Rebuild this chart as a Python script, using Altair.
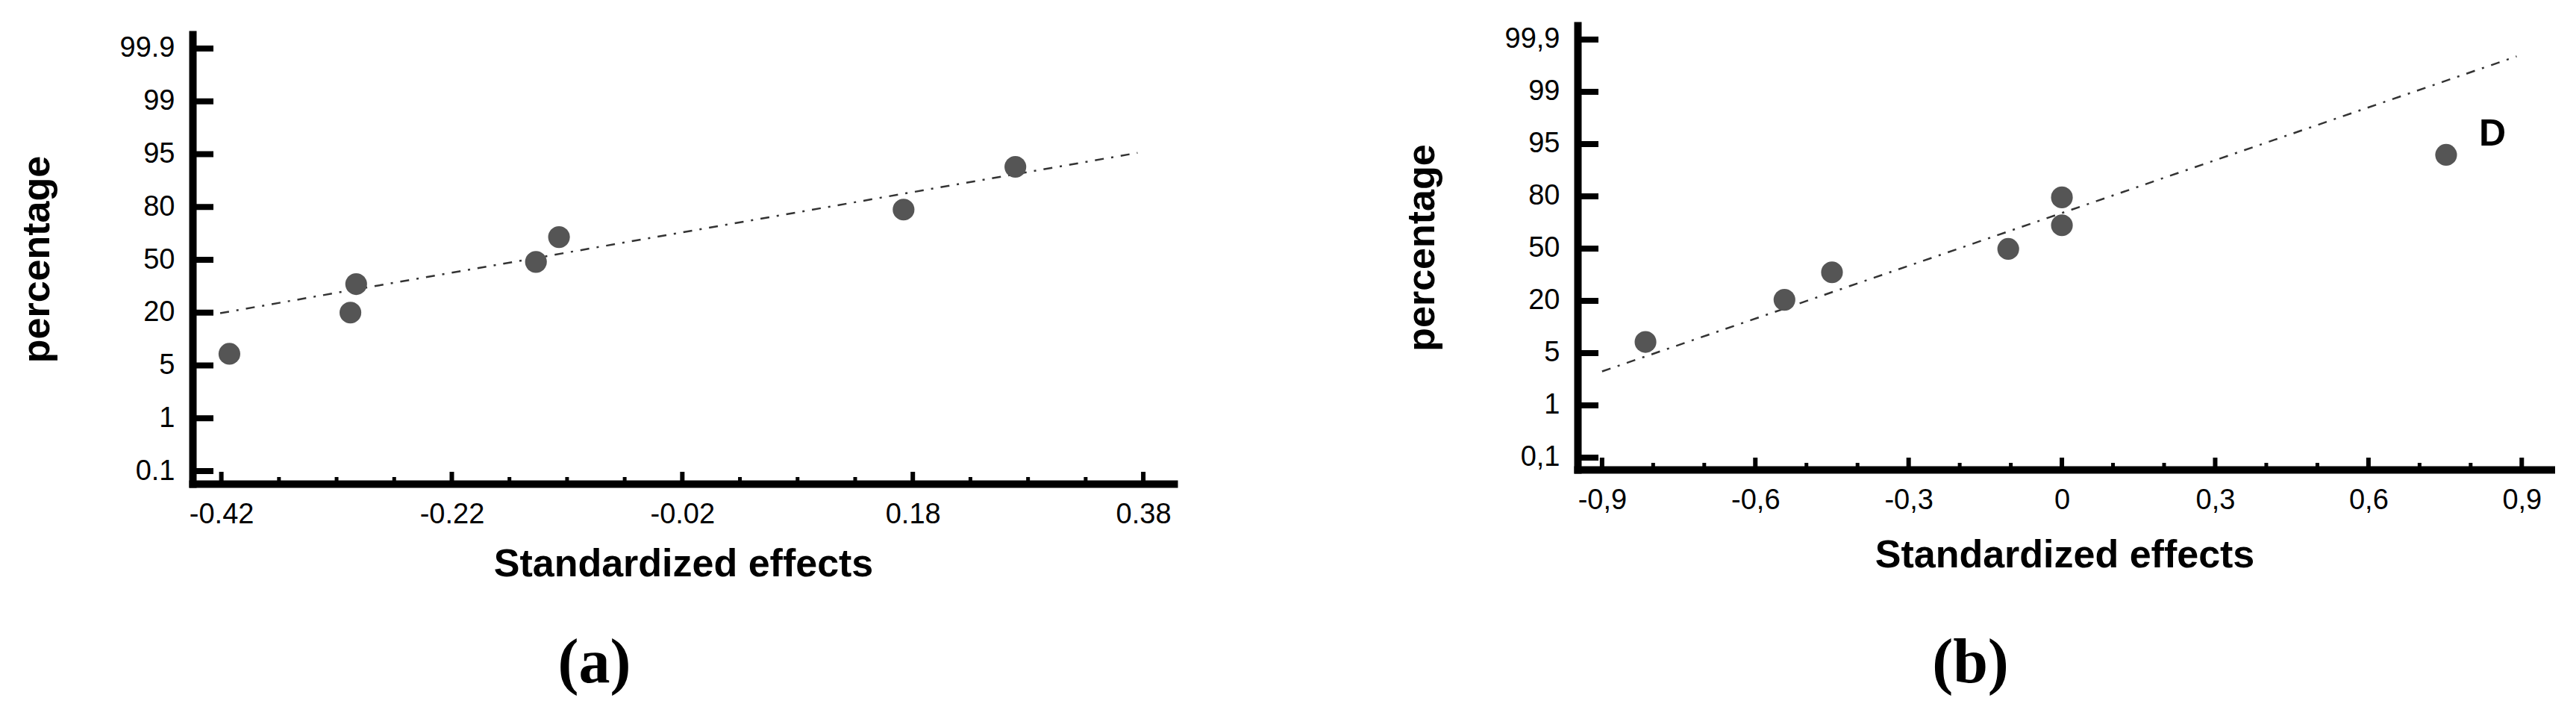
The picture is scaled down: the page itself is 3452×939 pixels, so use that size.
import altair as alt
import pandas as pd

# ---------------- data ----------------
pct_ticks = [0.1, 1, 5, 20, 50, 80, 95, 99, 99.9]

# panel (a)
a_effect = [-0.413, -0.308, -0.303, -0.147, -0.127, 0.172, 0.269]
a_pct = [8.3, 20.0, 36.2, 48.8, 62.9, 78.5, 91.4]
a_label = ["", "", "", "", "", "", ""]
a_line_effect = [-0.421, 0.375]
a_line_pct = [19.85, 95.1]
a_major = [-0.42, -0.22, -0.02, 0.18, 0.38]
a_minor = [-0.37, -0.32, -0.27, -0.17, -0.12, -0.07, 0.03, 0.08, 0.13, 0.23, 0.28, 0.33]

# panel (b)
b_effect = [-0.815, -0.543, -0.45, -0.105, 0.0, 0.0, 0.752]
b_pct = [8.2, 20.6, 36.4, 49.8, 63.4, 79.4, 91.9]
b_label = ["", "", "", "", "", "", "D"]
b_line_effect = [-0.9, 0.89]
b_line_pct = [3.6, 99.61]
b_major = [-0.9, -0.6, -0.3, 0.0, 0.3, 0.6, 0.9]
b_minor = [-0.8, -0.7, -0.5, -0.4, -0.2, -0.1, 0.1, 0.2, 0.4, 0.5, 0.7, 0.8]

FONT = "Liberation Sans"


def panel(eff, pct, lab, leff, lpct, major, minor, xdom, W, H, lmin, lmax,
          comma, letter, letter_dx, letter_offset, inset, x_title_pad):
    # inset: empty room kept above the top of the y axis
    HT = H + inset
    dom = [0] + pct_ticks + [100]
    lv = [lmin] + list(range(len(pct_ticks))) + [lmax]
    rng = [inset + H * (lmax - l) / (lmax - lmin) for l in lv]
    ys = alt.Scale(domain=dom, range=rng, nice=False, zero=False)
    xs = alt.Scale(domain=xdom, nice=False, zero=False)
    if comma:
        lx = "replace('' + datum.value, '.', ',')"
    else:
        lx = "'' + datum.value"
    xaxis = alt.Axis(values=major, labelExpr=lx, title="Standardized effects",
                     labelPadding=22, titlePadding=x_title_pad)
    yaxis = alt.Axis(values=pct_ticks, labelExpr=lx, title="percentage",
                     labelPadding=24, titlePadding=84)

    df = pd.DataFrame({"e": eff, "p": pct, "lab": lab})
    dl = pd.DataFrame({"e": leff, "p": lpct})
    dmaj = pd.DataFrame({"e": major})
    dmin = pd.DataFrame({"e": minor})
    dyt = pd.DataFrame({"p": pct_ticks})

    X = alt.X("e:Q", scale=xs, axis=xaxis)
    Y = alt.Y("p:Q", scale=ys, axis=yaxis)

    line = alt.Chart(dl).mark_line(color="#333333", strokeWidth=2.5,
                                   strokeDash=[12, 10, 3, 10]).encode(x=X, y=Y)
    pts = alt.Chart(df).mark_circle(size=850, color="#555555", opacity=1).encode(x=X, y=Y)
    txt = alt.Chart(df).transform_filter("datum.lab != ''").mark_text(
        font=FONT, fontSize=50, fontWeight="bold", color="black",
        dx=62, dy=-27).encode(x=X, y=Y, text="lab:N")
    tmaj = alt.Chart(dmaj).mark_rule(color="black", strokeWidth=6).encode(
        x=X, y=alt.value(HT), y2=alt.value(HT - 16))
    tmin = alt.Chart(dmin).mark_rule(color="black", strokeWidth=5).encode(
        x=X, y=alt.value(HT), y2=alt.value(HT - 9))
    ytk = alt.Chart(dyt).mark_rule(color="black", strokeWidth=8).encode(
        y=Y, x=alt.value(0), x2=alt.value(28))

    return alt.layer(ytk, tmaj, tmin, line, pts, txt).properties(
        width=W, height=HT,
        title=alt.TitleParams(letter, orient="bottom", anchor="middle",
                              font="Liberation Serif", fontSize=84,
                              fontWeight="bold", color="black",
                              dx=letter_dx, offset=letter_offset),
    )


pa = panel(a_effect, a_pct, a_label, a_line_effect, a_line_pct, a_major, a_minor,
           [-0.445, 0.4065], 1315, 602, -0.24, 8.2685, False, "(a)", -119, 67, 12, 22)
pb = panel(b_effect, b_pct, b_label, b_line_effect, b_line_pct, b_major, b_minor,
           [-0.948, 0.958], 1305, 595, -0.2286, 8.271, True, "(b)", -126, 79, 0, 29)

chart = alt.hconcat(pa, pb, spacing=306).properties(
    padding={"left": 15, "top": 25, "right": 5, "bottom": 5},
    background="white",
).configure_view(stroke=None).configure_axis(
    domainColor="black", domainWidth=10, domainCap="square",
    ticks=False, tickSize=0, grid=False,
    labelFont=FONT, labelFontSize=38, labelColor="black",
    titleFont=FONT, titleFontSize=52, titleFontWeight="bold", titleColor="black",
)

chart.save("out.html", embed_options={"renderer": "svg", "actions": False})
